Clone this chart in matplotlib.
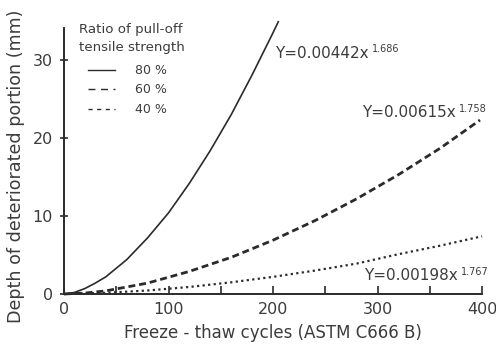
import numpy as np
import matplotlib.pyplot as plt
from matplotlib.lines import Line2D
from matplotlib.ticker import MultipleLocator

plt.rcParams['font.family'] = ['DejaVu Sans']

# depth of deteriorated portion vs freeze-thaw cycles, per pull-off strength ratio
cycles_80 = [0, 10, 20, 30, 40, 60, 80, 100, 120, 140, 160, 180, 200, 205]
depth_80 = [0, 0.2, 0.7, 1.4, 2.2, 4.4, 7.2, 10.4, 14.2, 18.4, 23.0, 28.1, 33.5, 34.9]

cycles_60 = [0, 20, 40, 80, 120, 160, 200, 240, 280, 320, 360, 398]
depth_60 = [0, 0.12, 0.4, 1.4, 2.9, 4.7, 6.9, 9.4, 12.2, 15.3, 18.7, 22.3]

cycles_40 = [0, 40, 80, 120, 160, 200, 240, 280, 320, 360, 400]
depth_40 = [0, 0.15, 0.45, 0.9, 1.5, 2.2, 3.0, 3.9, 5.1, 6.2, 7.4]

ratio_labels = ['80 %', '60 %', '40 %']
eq_main = ['Y=0.00442x', 'Y=0.00615x', 'Y=0.00198x']
eq_pow = ['1.686', '1.758', '1.767']
eq_pos = [(202, 30.3), (285, 22.7), (287, 1.8)]

ink = '#2b2b2b'
txt = '#3c3c3c'

fig = plt.figure(figsize=(4.96, 3.5), dpi=100)
ax = fig.add_axes([0.129, 0.16, 0.843, 0.76])

ax.plot(cycles_80, depth_80, color=ink, lw=1.2, clip_on=False)
ax.plot(cycles_60, depth_60, color=ink, lw=2.0, dashes=(2.5, 1.4), clip_on=False)
ax.plot(cycles_40, depth_40, color=ink, lw=1.6, linestyle=(0, (1, 1.5)), clip_on=False)

for (ex, ey), m, p in zip(eq_pos, eq_main, eq_pow):
    t = ax.text(ex, ey, m, fontsize=11, color=txt, ha='left', va='baseline')
    ax.annotate(p, xy=(1, 0), xycoords=t, xytext=(2.5, 6), textcoords='offset points',
                fontsize=7, color=txt, ha='left', va='baseline', annotation_clip=False)

ax.set_xlim(0, 400)
ax.set_ylim(0, 34.1)
ax.xaxis.set_major_locator(MultipleLocator(100))
ax.xaxis.set_minor_locator(MultipleLocator(50))
ax.yaxis.set_major_locator(MultipleLocator(10))
ax.tick_params(axis='x', which='both', direction='in', length=6, width=1.2, color=ink,
               labelsize=11.5, labelcolor=txt, pad=6)
ax.tick_params(axis='y', direction='inout', length=6, width=1.2, color=ink,
               labelsize=11.5, labelcolor=txt, pad=5)
for side in ['top', 'right']:
    ax.spines[side].set_visible(False)
for side in ['left', 'bottom']:
    ax.spines[side].set_linewidth(1.4)
    ax.spines[side].set_color(ink)

ax.set_xlabel('Freeze - thaw cycles (ASTM C666 B)', fontsize=12, color=txt, labelpad=5)
ax.set_ylabel('Depth of deteriorated portion (mm)', fontsize=12.6, color=txt)
ax.yaxis.set_label_coords(-0.094, 0.481)

# legend: title as plain text, entries below it
ax.text(0.036, 1.02, 'Ratio of pull-off\ntensile strength', transform=ax.transAxes,
        fontsize=9.6, color=txt, ha='left', va='top', linespacing=1.5)
handles = [Line2D([], [], color=ink, lw=1.0),
           Line2D([], [], color=ink, lw=1.0, dashes=(5, 4)),
           Line2D([], [], color=ink, lw=1.0, dashes=(3, 3.2))]
ax.legend(handles, ratio_labels, loc='upper left', bbox_to_anchor=(0.057, 0.865),
          frameon=False, fontsize=9, labelcolor=txt, handlelength=2.2,
          handletextpad=1.6, labelspacing=0.52, borderpad=0, borderaxespad=0)

fig.savefig('out.png', dpi=100)
